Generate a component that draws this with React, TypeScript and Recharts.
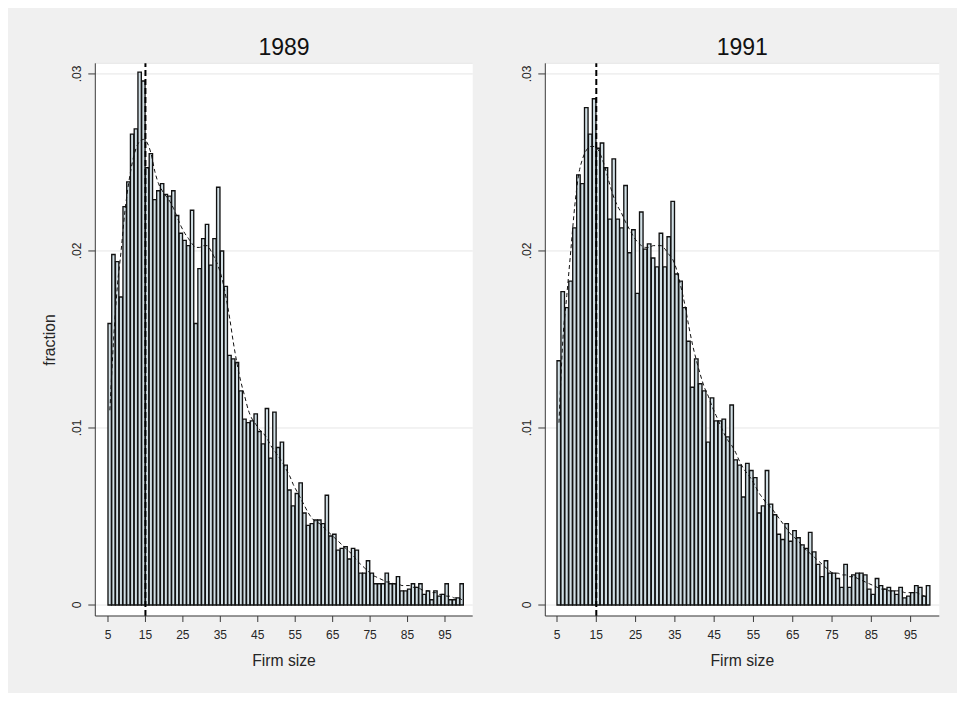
import React from "react";
import {
  Bar,
  CartesianGrid,
  ComposedChart,
  Line,
  ReferenceLine,
  XAxis,
  YAxis,
} from "recharts";

// firm size categories (one bar per size, bin [k, k+1))
const firmSize = [
  5, 6, 7, 8, 9, 10, 11, 12, 13, 14, 15, 16, 17, 18, 19, 20, 21, 22, 23, 24,
  25, 26, 27, 28, 29, 30, 31, 32, 33, 34, 35, 36, 37, 38, 39, 40, 41, 42, 43, 44,
  45, 46, 47, 48, 49, 50, 51, 52, 53, 54, 55, 56, 57, 58, 59, 60, 61, 62, 63, 64,
  65, 66, 67, 68, 69, 70, 71, 72, 73, 74, 75, 76, 77, 78, 79, 80, 81, 82, 83, 84,
  85, 86, 87, 88, 89, 90, 91, 92, 93, 94, 95, 96, 97, 98, 99,
];

const frac1989 = [
  0.0159, 0.0198, 0.0194, 0.0174, 0.0225, 0.0239, 0.0266, 0.0269, 0.0301, 0.0296,
  0.0247, 0.0255, 0.0229, 0.0234, 0.0238, 0.0232, 0.0231, 0.0234, 0.022, 0.021,
  0.0206, 0.0203, 0.0223, 0.0159, 0.019, 0.0207, 0.0215, 0.0192, 0.0207, 0.0236,
  0.02, 0.018, 0.0141, 0.0139, 0.0137, 0.0121, 0.0105, 0.0103, 0.0104, 0.0108,
  0.0098, 0.0091, 0.0111, 0.0083, 0.0109, 0.0089, 0.0092, 0.0079, 0.0065, 0.0056,
  0.0063, 0.0069, 0.0052, 0.0045, 0.0046, 0.0048, 0.0048, 0.0046, 0.0062, 0.0039,
  0.004, 0.0031, 0.0032, 0.0033, 0.0026, 0.0032, 0.0031, 0.0018, 0.0018, 0.0025,
  0.0018, 0.0012, 0.0012, 0.0012, 0.0018, 0.0012, 0.0012, 0.0016, 0.0008, 0.0008,
  0.0009, 0.0012, 0.001, 0.0012, 0.0006, 0.0008, 0.0003, 0.0008, 0.0005, 0.0006,
  0.0012, 0.0003, 0.0003, 0.0004, 0.0012,
];

const kde1989 = [
  0.011, 0.015, 0.018, 0.02, 0.0222, 0.0238, 0.025, 0.0258, 0.0262, 0.0263,
  0.0261, 0.0255, 0.0245, 0.0238, 0.0234, 0.0231, 0.0228, 0.0224, 0.0219, 0.0214,
  0.021, 0.0207, 0.0204, 0.0202, 0.0202, 0.0203, 0.0203, 0.02, 0.0196, 0.0191,
  0.0184, 0.0174, 0.0162, 0.0148, 0.0136, 0.0126, 0.0118, 0.011, 0.0105, 0.0102,
  0.0099, 0.0097, 0.0094, 0.009, 0.0087, 0.0084, 0.0081, 0.0077, 0.0073, 0.0068,
  0.0064, 0.006, 0.0056, 0.0052, 0.0049, 0.0047, 0.0046, 0.0044, 0.0042, 0.004,
  0.0038, 0.0036, 0.0034, 0.0032, 0.003, 0.0028, 0.0025, 0.0023, 0.0021, 0.0019,
  0.0017, 0.0016, 0.0015, 0.0014, 0.0013, 0.0013, 0.0012, 0.0012, 0.0011, 0.0011,
  0.0011, 0.001, 0.001, 0.0009, 0.0008, 0.0008, 0.0007, 0.0007, 0.0006, 0.0006,
  0.0005, 0.0005, 0.0004, 0.0004, 0.0003,
];

const frac1991 = [
  0.0138, 0.0177, 0.0168, 0.0183, 0.0213, 0.0243, 0.0238, 0.0281, 0.0266, 0.0286,
  0.0258, 0.0261, 0.0247, 0.0218, 0.0252, 0.0218, 0.0213, 0.0237, 0.0199, 0.0212,
  0.0176, 0.0222, 0.0201, 0.0204, 0.0196, 0.0191, 0.021, 0.0191, 0.0208, 0.0228,
  0.0187, 0.0183, 0.0168, 0.0149, 0.0123, 0.0139, 0.0125, 0.0121, 0.0092, 0.0117,
  0.0104, 0.0104, 0.0105, 0.0095, 0.0113, 0.0082, 0.0079, 0.0061, 0.008, 0.0076,
  0.0072, 0.0052, 0.0056, 0.0076, 0.0057, 0.0051, 0.004, 0.0037, 0.0046, 0.0036,
  0.0042, 0.0038, 0.0034, 0.0032, 0.0041, 0.003, 0.0023, 0.0016, 0.0025, 0.0018,
  0.0018, 0.0015, 0.001, 0.0023, 0.001, 0.0017, 0.0018, 0.0018, 0.0017, 0.0009,
  0.0006, 0.0015, 0.0011, 0.0009, 0.001, 0.0008, 0.0006, 0.001, 0.0004, 0.0005,
  0.0007, 0.0011, 0.001, 0.0005, 0.0011,
];

const kde1991 = [
  0.0103, 0.015, 0.0175, 0.02, 0.0225, 0.0243, 0.0252, 0.0257, 0.0259, 0.0259,
  0.0257, 0.0252, 0.0245, 0.0237, 0.023, 0.0225, 0.0221, 0.0216, 0.0212, 0.0208,
  0.0205, 0.0203, 0.0202, 0.0202, 0.0203, 0.0203, 0.0203, 0.0201, 0.0198, 0.0195,
  0.0189, 0.018, 0.017, 0.0158, 0.0147, 0.0138, 0.013, 0.0123, 0.0118, 0.0112,
  0.0107, 0.0102, 0.0097, 0.0093, 0.009, 0.0086, 0.0081, 0.0077, 0.0074, 0.0071,
  0.0067, 0.0063, 0.006, 0.0057, 0.0055, 0.0052, 0.0049, 0.0046, 0.0043, 0.004,
  0.0038, 0.0036, 0.0033, 0.0031, 0.0029, 0.0027, 0.0025, 0.0023, 0.0021, 0.0019,
  0.0018, 0.0018, 0.0017, 0.0017, 0.0016, 0.0016, 0.0015, 0.0014, 0.0013, 0.0012,
  0.0011, 0.001, 0.0009, 0.0009, 0.0008, 0.0008, 0.0008, 0.0008, 0.0007, 0.0007,
  0.0007, 0.0007, 0.0006, 0.0005, 0.0004,
];

const xTicks = [5, 15, 25, 35, 45, 55, 65, 75, 85, 95];
const yTicks = [0, 0.01, 0.02, 0.03];
const markerSize = 15;

const FONT = '"Liberation Sans", Arial, sans-serif';
const BG = "#f0f0f0";
const AXIS = "#3a3a3a";
const TEXT = "#262626";
const CHART_H = 701;
const Y_AXIS_W = 40;
const X_AXIS_H = 50;

function fmtY(v: number) {
  return v === 0 ? "0" : v.toFixed(2).replace(/^0/, "");
}

function YTick(props: any) {
  const { x, y, payload } = props;
  return (
    <text
      transform={`translate(${x - 5},${y}) rotate(-90)`}
      textAnchor="middle"
      fontSize={12}
      fill={TEXT}
    >
      {fmtY(payload.value)}
    </text>
  );
}

interface PanelProps {
  title: string;
  frac: number[];
  kde: number[];
  left: number;
  width: number;
  margin: { top: number; right: number; bottom: number; left: number };
  xDomain: [number, number];
}

function Panel({ title, frac, kde, left, width, margin, xDomain }: PanelProps) {
  const data = firmSize.map((s, i) => ({
    x: s + 0.5,
    fraction: frac[i],
    kde: kde[i],
  }));
  const plotW = width - margin.left - margin.right - Y_AXIS_W;
  const barSize = plotW / (xDomain[1] - xDomain[0]);
  const plotCenter = margin.left + Y_AXIS_W + plotW / 2;

  return (
    <div style={{ position: "absolute", left, top: 0, width, height: CHART_H }}>
      <div
        style={{
          position: "absolute",
          left: plotCenter,
          top: 35.5,
          transform: "translateX(-50%)",
          fontSize: 23,
          lineHeight: "23px",
          color: "#111",
          whiteSpace: "nowrap",
        }}
      >
        {title}
      </div>
      <ComposedChart width={width} height={CHART_H} data={data} margin={margin}>
        <CartesianGrid
          vertical={false}
          stroke="#e6e6e6"
          fill="#ffffff"
          fillOpacity={1}
        />
        <XAxis
          type="number"
          dataKey="x"
          domain={xDomain}
          allowDataOverflow
          ticks={xTicks}
          interval={0}
          height={X_AXIS_H}
          tickSize={6}
          tickMargin={8}
          stroke={AXIS}
          tick={{ fontSize: 12, fill: TEXT }}
          label={{
            value: "Firm size",
            position: "insideBottom",
            offset: 0,
            fontSize: 15.7,
            fill: TEXT,
          }}
        />
        <YAxis
          type="number"
          domain={[-0.00062, 0.0306]}
          allowDataOverflow
          ticks={yTicks}
          interval={0}
          width={Y_AXIS_W}
          tickSize={7}
          stroke={AXIS}
          tick={<YTick />}
        />
        <Bar
          dataKey="fraction"
          barSize={barSize}
          fill="#d2e0e6"
          stroke="#111"
          strokeWidth={1.35}
          isAnimationActive={false}
        />
        <Line
          type="monotone"
          dataKey="kde"
          stroke="#111"
          strokeWidth={1}
          strokeDasharray="4 3"
          dot={false}
          activeDot={false}
          isAnimationActive={false}
        />
        <ReferenceLine
          x={markerSize}
          stroke="#000"
          strokeWidth={2}
          strokeDasharray="6 3"
        />
      </ComposedChart>
    </div>
  );
}

export default function App() {
  return (
    <div
      style={{
        position: "relative",
        width: 965,
        height: CHART_H,
        margin: -8,
        fontFamily: FONT,
        overflow: "hidden",
      }}
    >
      <div
        style={{
          position: "absolute",
          left: 7,
          top: 2,
          right: 0,
          bottom: 0,
          background: BG,
        }}
      />
      <Panel
        title="1989"
        frac={frac1989}
        kde={kde1989}
        left={0}
        width={480}
        margin={{ top: 63.3, right: 7.3, bottom: 35, left: 55.3 }}
        xDomain={[1.61, 102.4]}
      />
      <Panel
        title="1991"
        frac={frac1991}
        kde={kde1991}
        left={490}
        width={475}
        margin={{ top: 63.3, right: 25.7, bottom: 35, left: 15.3 }}
        xDomain={[2.02, 102.3]}
      />
      <div
        style={{
          position: "absolute",
          left: 50,
          top: 340,
          transform: "translate(-50%, -50%) rotate(-90deg)",
          fontSize: 15.7,
          lineHeight: "16px",
          color: TEXT,
          whiteSpace: "nowrap",
        }}
      >
        fraction
      </div>
    </div>
  );
}
